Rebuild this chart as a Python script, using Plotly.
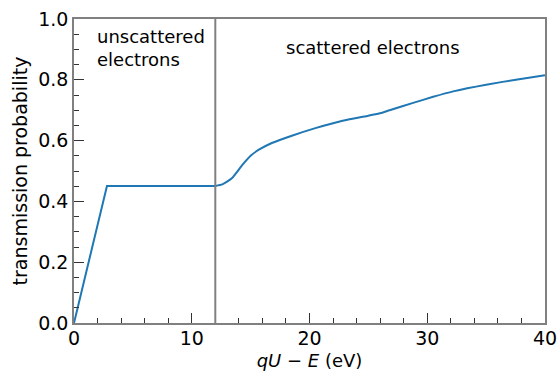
import plotly.graph_objects as go

# Transmission probability vs. surplus energy qU - E
# unscattered part: linear ramp up to a plateau
unscat_energy_ev = [0.0, 2.8, 12.0]
unscat_transmission = [0.0, 0.451, 0.451]

# scattered part: smooth rise above the threshold
scat_energy_ev = [12.0, 12.6, 13.4, 14.3, 15.0, 15.7, 16.8, 18.5, 20.5, 22.0, 23.4,
                  25.0, 26.0, 26.8, 28.8, 30.5, 32.2, 35.0, 37.8, 40.0]
scat_transmission = [0.451, 0.456, 0.476, 0.520, 0.550, 0.570, 0.592, 0.616, 0.641,
                     0.657, 0.670, 0.682, 0.690, 0.700, 0.724, 0.744, 0.762, 0.784, 0.802, 0.815]

threshold_ev = 12.0
x_ticks = [0, 10, 20, 30, 40]
y_ticks = [0.0, 0.2, 0.4, 0.6, 0.8, 1.0]

FONT = "DejaVu Sans"
BLUE = "#1f77b4"

fig = go.Figure()
fig.add_trace(go.Scatter(
    x=unscat_energy_ev, y=unscat_transmission, mode="lines",
    line=dict(color=BLUE, width=2), showlegend=False,
))
fig.add_trace(go.Scatter(
    x=scat_energy_ev, y=scat_transmission, mode="lines",
    line=dict(color=BLUE, width=2, shape="spline", smoothing=0.5), showlegend=False,
))

# boundary between unscattered and scattered electrons
fig.add_shape(type="line", x0=threshold_ev, x1=threshold_ev, y0=0, y1=1,
              xref="x", yref="y", line=dict(color="#808080", width=2))

fig.add_annotation(x=1.8, y=0.905, xref="x", yref="y", xanchor="left", yanchor="middle",
                   text="unscattered<br>electrons", showarrow=False, align="left",
                   font=dict(family=FONT, size=18, color="black"))
fig.add_annotation(x=17.8, y=0.905, xref="x", yref="y", xanchor="left", yanchor="middle",
                   text="scattered electrons", showarrow=False, align="left",
                   font=dict(family=FONT, size=18, color="black"))

axis_common = dict(
    showgrid=False, zeroline=False, showline=True, linecolor="#808080", linewidth=1.5,
    mirror=True, ticks="inside", ticklen=10, tickwidth=1.2, tickcolor="#333333",
    tickfont=dict(family=FONT, size=19, color="black"), automargin=False,
)

fig.update_xaxes(
    range=[0, 40], tickvals=x_ticks, ticktext=[str(v) for v in x_ticks],
    minor=dict(dtick=2, ticks="inside", ticklen=5, tickwidth=1.2, tickcolor="#333333"),
    ticklabelstandoff=-3,
    title=dict(text="<i>qU</i> − <i>E</i> (eV)", font=dict(family=FONT, size=18, color="black"),
               standoff=7),
    **axis_common,
)
fig.update_yaxes(
    range=[0, 1], tickvals=y_ticks, ticktext=[f"{v:.1f}" for v in y_ticks],
    minor=dict(dtick=0.05, ticks="inside", ticklen=5, tickwidth=1.2, tickcolor="#333333"),
    title=dict(text="transmission probability", font=dict(family=FONT, size=19, color="black"),
               standoff=6),
    **axis_common,
)

fig.update_layout(
    width=558, height=371,
    margin=dict(l=73.5, r=12.5, t=19, b=48),
    plot_bgcolor="white", paper_bgcolor="white",
)

fig.write_html("out.html")
